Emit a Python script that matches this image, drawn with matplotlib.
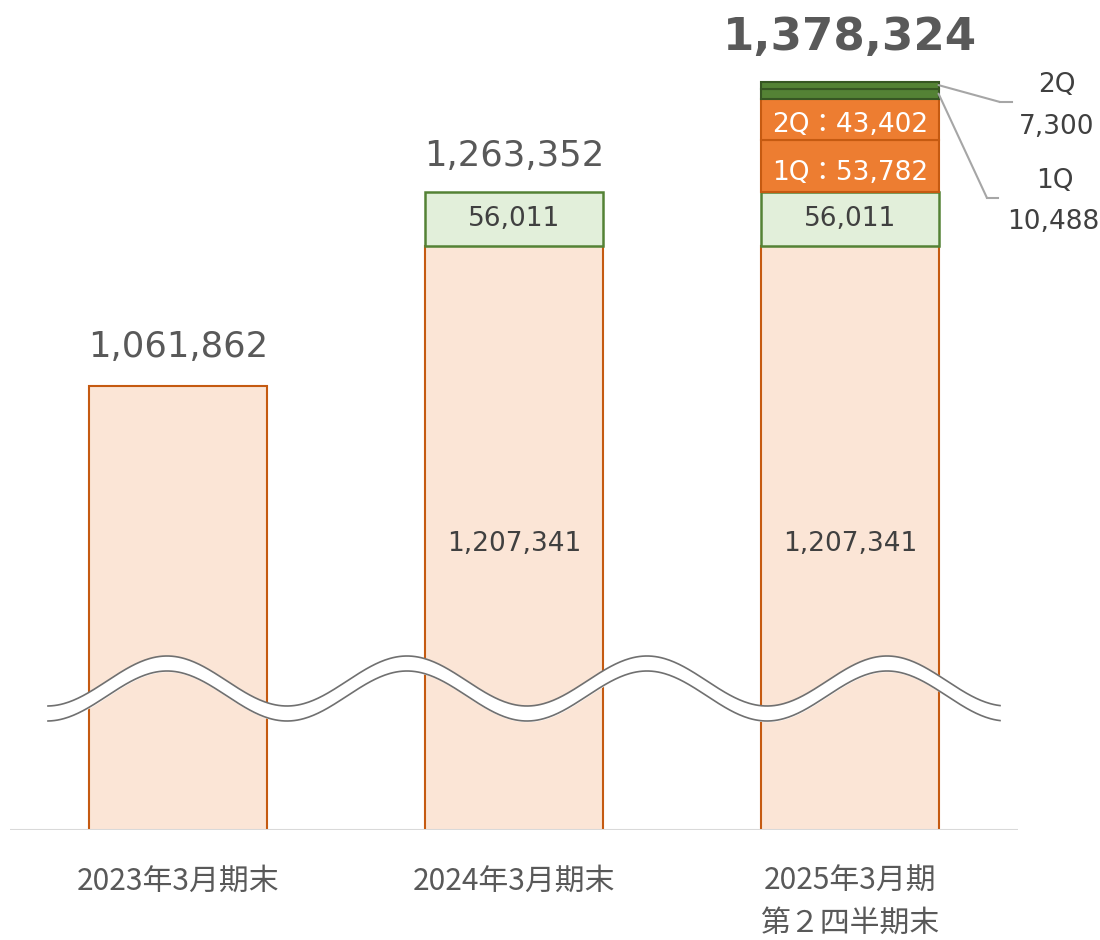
import numpy as np
import matplotlib
matplotlib.use("Agg")
import matplotlib.pyplot as plt

categories = ["2023年3月期末", "2024年3月期末", "2025年3月期\n第２四半期末"]
base_values = [1061862, 1207341, 1207341]
prev_increase = [0, 56011, 56011]
orange_1q = [0, 0, 53782]
orange_2q = [0, 0, 43402]
green_1q = [0, 0, 10488]
green_2q = [0, 0, 7300]
totals = [1061862, 1263352, 1378324]

NUM = ["DejaVu Sans", "Noto Sans CJK JP"]
CJK = ["Noto Sans CJK JP", "DejaVu Sans"]
GRAY = "#595959"

W, H = 1100, 940
fig = plt.figure(figsize=(W / 100, H / 100), dpi=100)
ax = fig.add_axes([10 / W, 110 / H, 1008 / W, 830 / H])
ymin = 600000
ymax = ymin + 830 * 1040
ax.set_xlim(-0.5, 2.5)
ax.set_ylim(ymin, ymax)
for s in ax.spines.values():
    s.set_visible(False)
ax.set_yticks([])
ax.set_xticks([])

x = np.arange(len(categories))
bw = 0.527
bottom = np.zeros(3)
ax.bar(x, base_values, bw, bottom=bottom, color="#FBE5D6", edgecolor="#C55A11", linewidth=1.5)
bottom += base_values
pv = np.array(prev_increase)
m = pv > 0
ax.bar(x[m], pv[m], bw, bottom=bottom[m], color="#E2EFDA", edgecolor="#548235", linewidth=1.8)
bottom += pv
for vals, fc, ec in [(orange_1q, "#ED7D31", "#C55A11"), (orange_2q, "#ED7D31", "#C55A11"),
                     (green_1q, "#548235", "#375623"), (green_2q, "#548235", "#375623")]:
    v = np.array(vals)
    mm = v > 0
    ax.bar(x[mm], v[mm], bw, bottom=bottom[mm], color=fc, edgecolor=ec, linewidth=1.5)
    bottom += v

# baseline
ax.axhline(ymin, color="#D9D9D9", linewidth=2.2, zorder=5)

# total labels
offs = [28, 26, 32]
for i, t in enumerate(totals):
    bold = i == 2
    ax.annotate(f"{t:,}", (x[i], t), xytext=(0, offs[i]), textcoords="offset points",
                ha="center", va="center", fontsize=32.5 if bold else 25.5,
                fontweight="bold" if bold else "normal", color=GRAY, family=NUM)

# inner labels
for i in range(1, 3):
    ax.annotate(f"{base_values[i]:,}", (x[i], (ymin + base_values[i]) / 2), xytext=(0, -4),
                textcoords="offset points", ha="center", va="center",
                fontsize=19, color="#404040", family=NUM)
    ax.text(x[i], base_values[i] + prev_increase[i] / 2, f"{prev_increase[i]:,}", ha="center",
            va="center", fontsize=19, color="#404040", family=NUM)
b = base_values[2] + prev_increase[2]
ax.annotate(f"1Q：{orange_1q[2]:,}", (x[2], b + orange_1q[2] / 2), xytext=(0, -5),
            textcoords="offset points", ha="center", va="center",
            fontsize=19, color="white", family=NUM)
b += orange_1q[2]
ax.annotate(f"2Q：{orange_2q[2]:,}", (x[2], b + orange_2q[2] / 2), xytext=(0, -4),
            textcoords="offset points", ha="center", va="center",
            fontsize=19, color="white", family=NUM)

# green labels with leader lines
def px(xp, yp):
    return (xp / W, (H - yp) / H)

g1_mid = b + orange_2q[2] + green_1q[2] / 2
g2_mid = b + orange_2q[2] + green_1q[2] + green_2q[2] / 2
x_right = x[2] + bw / 2
ax.annotate("", xy=(x_right, g2_mid), xytext=px(1000, 102), textcoords="figure fraction",
            arrowprops=dict(arrowstyle="-", color="#A6A6A6", lw=1.5, shrinkA=0, shrinkB=0))
ax.annotate("", xy=(x_right, g1_mid), xytext=px(987, 198), textcoords="figure fraction",
            arrowprops=dict(arrowstyle="-", color="#A6A6A6", lw=1.5, shrinkA=0, shrinkB=0))
fig.add_artist(plt.Line2D([1000 / W, 1012 / W], [(H - 102) / H] * 2, color="#A6A6A6", lw=1.5))
fig.add_artist(plt.Line2D([987 / W, 998 / W], [(H - 198) / H] * 2, color="#A6A6A6", lw=1.5))
fig.text(*px(1057, 85), "2Q", ha="center", va="center", fontsize=19, color="#404040", family=NUM)
fig.text(*px(1057, 127), f"{green_2q[2]:,}", ha="center", va="center", fontsize=19, color="#404040", family=NUM)
fig.text(*px(1055, 181), "1Q", ha="center", va="center", fontsize=19, color="#404040", family=NUM)
fig.text(*px(1053, 222), f"{green_1q[2]:,}", ha="center", va="center", fontsize=19, color="#404040", family=NUM)

# category labels
for i, c in enumerate(categories):
    ax.annotate(c, (x[i], ymin), xytext=(0, -26), textcoords="offset points", ha="center", va="top",
                fontsize=21.5, color=GRAY, family=CJK, linespacing=1.45)

# wave break
xs = np.linspace(48, 1000, 600)
yu = 681 - 25 * np.cos(2 * np.pi * (xs - 167) / 240)
yl = yu + 15
fx = xs / W
fu = (H - yu) / H
fl = (H - yl) / H
wax = fig.add_axes([0, 0, 1, 1], facecolor="none")
wax.set_xlim(0, 1)
wax.set_ylim(0, 1)
wax.axis("off")
wax.fill_between(fx, fl, fu, color="white", zorder=1)
wax.plot(fx, fu, color="#707070", lw=1.2, zorder=2)
wax.plot(fx, fl, color="#707070", lw=1.2, zorder=2)

fig.savefig("out.png", dpi=100)
